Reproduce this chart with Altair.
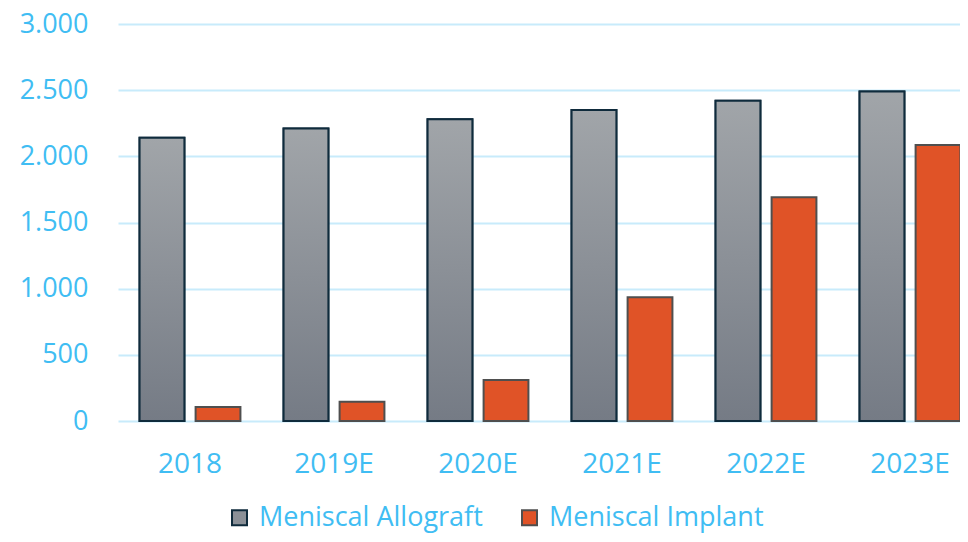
import altair as alt
import pandas as pd

years = ["2018", "2019E", "2020E", "2021E", "2022E", "2023E"]
allograft = [2140, 2210, 2280, 2350, 2420, 2490]
implant = [105, 145, 310, 935, 1690, 2085]
series = ["Meniscal Allograft", "Meniscal Implant"]

rows = []
for y, a, i in zip(years, allograft, implant):
    rows.append({"year": y, "series": series[0], "value": a})
    rows.append({"year": y, "series": series[1], "value": i})
df = pd.DataFrame(rows)

BLUE = "#40bdf3"
FONT = "Open Sans"
FS = 28

x = alt.X("year:N", sort=years, title=None,
          scale=alt.Scale(range=[0, 864], paddingInner=0, paddingOuter=0),
          axis=alt.Axis(domain=False, ticks=False, labelAngle=0, labelPadding=29,
                        labelColor=BLUE, labelFontSize=FS, labelFont=FONT, grid=False))
xo = alt.XOffset("series:N", sort=series,
                 scale=alt.Scale(domain=series, paddingInner=0.2, paddingOuter=0.385))
y = alt.Y("value:Q", title=None,
          scale=alt.Scale(domain=[0, 3000], nice=False),
          axis=alt.Axis(values=[0, 500, 1000, 1500, 2000, 2500, 3000],
                        labelExpr="replace(format(datum.value, ','), ',', '.')",
                        domain=False, ticks=False, labelPadding=30,
                        labelColor=BLUE, labelFontSize=27, labelFont=FONT,
                        gridColor="#c8ebfb", gridWidth=2))

legend = alt.Legend(title=None, orient="none", direction="horizontal",
                    legendX=108, legendY=480, symbolType="square", symbolSize=225,
                    symbolStrokeWidth=2, labelColor=BLUE, labelFontSize=27,
                    labelFont=FONT, labelOffset=6, columnPadding=33, labelLimit=0)

base = alt.Chart(df).mark_bar(strokeWidth=2).encode(
    x=x, xOffset=xo, y=y,
    fill=alt.Fill("series:N", sort=series,
                  scale=alt.Scale(domain=series, range=["#8b9097", "#e05327"]),
                  legend=legend),
    stroke=alt.Stroke("series:N", sort=series,
                      scale=alt.Scale(domain=series, range=["#0f2b3c", "#4f4f4f"]),
                      legend=legend),
)

grad = alt.Chart(df).transform_filter(
    alt.datum.series == series[0]
).mark_bar(
    strokeWidth=2, stroke="#0f2b3c",
    fill=alt.Gradient(gradient="linear", x1=0, y1=0, x2=0, y2=1,
                      stops=[alt.GradientStop(offset=0, color="#a1a5a9"),
                             alt.GradientStop(offset=1, color="#757b85")])
).encode(x=x, xOffset=xo, y=y)

chart = alt.layer(base, grad).properties(
    width=840, height=397,
    autosize=alt.AutoSizeParams(type="none"),
    padding={"left": 110, "top": 16, "right": 2, "bottom": 113},
).configure_view(stroke=None)

chart.save("out.html", embed_options={"renderer": "svg", "actions": False})
